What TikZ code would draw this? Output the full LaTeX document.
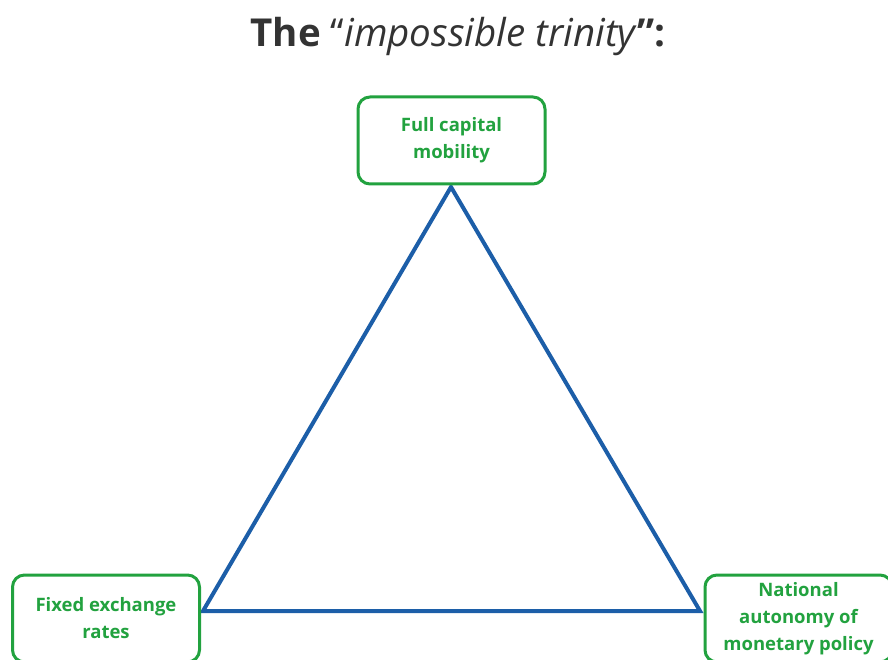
\documentclass[tikz,border=0pt]{standalone}
\usepackage{fontspec}
\setmainfont{Open Sans}
\definecolor{boxgreen}{HTML}{22A23F}
\definecolor{triblue}{HTML}{1C5EA8}
\definecolor{titlegray}{HTML}{333333}
\begin{document}
\begin{tikzpicture}[x=1pt,y=1pt,
  corner/.style={draw=boxgreen, line width=3pt, rounded corners=12pt, fill=white,
    minimum width=187pt, minimum height=87pt, align=center, text=boxgreen,
    font=\fontsize{18.5}{27}\selectfont\bfseries, inner sep=0pt},
  edge/.style={draw=triblue, line width=4pt, line join=miter}]
\useasboundingbox (0,0) rectangle (888,659);
\clip (0,0) rectangle (888,659);
\node[font=\fontsize{38.5}{44}\selectfont, text=titlegray] (title) at (458,622)
  {\textbf{The} ``\textit{impossible trinity}\textbf{'':}};
\coordinate (A) at (451,472);
\coordinate (B) at (203,48);
\coordinate (C) at (700,48);
\draw[edge] (A) -- (B) -- (C) -- cycle;
\node[corner] (top) at (451.5,518.5) {Full capital\\mobility};
\node[corner] (left) at (106,40.5) {Fixed exchange\\rates};
\node[corner] (right) at (798.5,40.5) {National\\autonomy of\\monetary policy};
\end{tikzpicture}
\end{document}
